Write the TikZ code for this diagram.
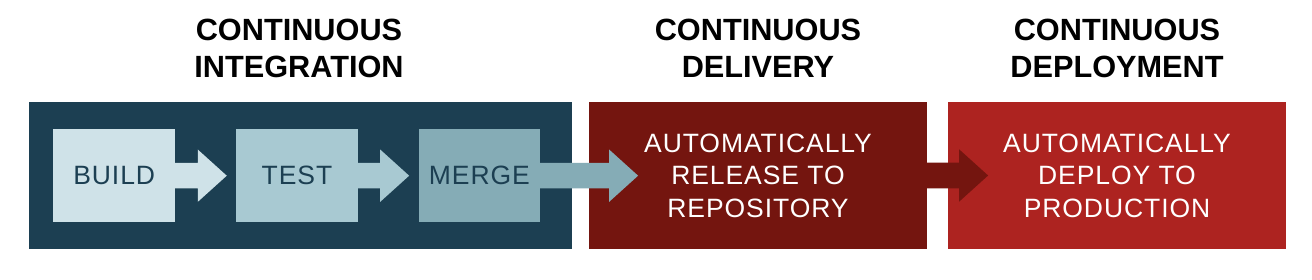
\documentclass[tikz,border=0pt]{standalone}
\usepackage{fontspec}
\setmainfont{Liberation Sans}
\newfontfamily\headfont{Liberation Sans}
\newfontfamily\bodyfont[LetterSpace=3.5]{Liberation Sans}
\usetikzlibrary{calc}
\definecolor{ciblue}{HTML}{1C3F52}
\definecolor{buildc}{HTML}{CFE2E8}
\definecolor{testc}{HTML}{A8C9D2}
\definecolor{mergec}{HTML}{85ACB6}
\definecolor{delred}{HTML}{74150F}
\definecolor{depred}{HTML}{AD2320}
\tikzset{
  stage/.style={inner sep=0pt, minimum width=337.4pt, minimum height=147.5pt, align=center,
    text=white, font=\bodyfont\fontsize{26.5}{32.5}\selectfont},
  inner/.style={inner sep=0pt, minimum width=121.5pt, minimum height=93.3pt,
    text=ciblue, font=\bodyfont\fontsize{26.5}{32.5}\selectfont},
  header/.style={inner sep=0pt, align=center, text=black,
    font=\headfont\bfseries\fontsize{30.7}{37}\selectfont},
}
% arrow: #1 colour, #2 start node anchor, #3 tip coordinate
\newcommand{\flowarrow}[3]{%
  \fill[#1] let \p1=(#2), \p2=(#3) in
    (\x1-0.5pt,\y1+12.8pt) -- (\x2-29pt,\y1+12.8pt) -- (\x2-29pt,\y1+26.2pt) --
    (\x2,\y1) --
    (\x2-29pt,\y1-26.2pt) -- (\x2-29pt,\y1-12.8pt) -- (\x1-0.5pt,\y1-12.8pt) -- cycle;}
\begin{document}
\begin{tikzpicture}[x=1pt,y=-1pt]
\useasboundingbox[fill=white] (0,0) rectangle (1312,280);
% stage boxes
\node[fill=ciblue, inner sep=0pt, minimum width=543pt, minimum height=147.5pt] (ci) at (300.3,175.5) {};
\node[stage, fill=delred] (cd) at (758,175.5) {AUTOMATICALLY\\RELEASE TO\\REPOSITORY};
\node[stage, fill=depred] (cdep) at (1117,175.5) {AUTOMATICALLY\\DEPLOY TO\\PRODUCTION};
% inner steps
\node[inner, fill=buildc] (build) at (114.2,175.7) {BUILD};
\node[inner, fill=testc] (test) at (297,175.7) {TEST};
\node[inner, fill=mergec] (merge) at (479.4,175.7) {MERGE};
% arrow tips
\coordinate (t1) at ($(test.west)+(-9.3,0)$);
\coordinate (t2) at ($(merge.west)+(-9.3,0)$);
\coordinate (t3) at ($(cd.west)+(49,0)$);
\coordinate (t4) at ($(cdep.west)+(40,0)$);
\flowarrow{buildc}{build.east}{t1}
\flowarrow{testc}{test.east}{t2}
\flowarrow{mergec}{merge.east}{t3}
\flowarrow{delred}{cd.east}{t4}
% headers
\node[header] (h1) at (299,48.5) {CONTINUOUS\\INTEGRATION};
\node[header] (h2) at (758,48.5) {CONTINUOUS\\DELIVERY};
\node[header] (h3) at (1117,48.5) {CONTINUOUS\\DEPLOYMENT};
\end{tikzpicture}
\end{document}
